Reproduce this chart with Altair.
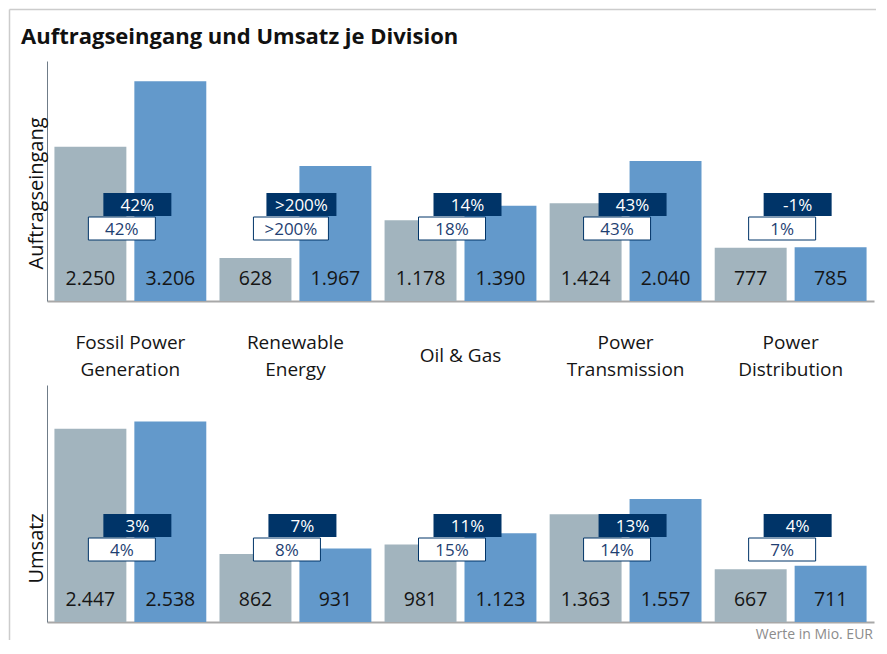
import altair as alt
import pandas as pd

# ---------------- data ----------------
divisions = ["Fossil Power Generation", "Renewable Energy", "Oil & Gas",
             "Power Transmission", "Power Distribution"]
division_labels = ["Fossil Power\nGeneration", "Renewable\nEnergy", "Oil & Gas",
                   "Power\nTransmission", "Power\nDistribution"]

ae_prev = [2250, 628, 1178, 1424, 777]
ae_curr = [3206, 1967, 1390, 2040, 785]
ae_nominal = ["42%", ">200%", "14%", "43%", "-1%"]
ae_comparable = ["42%", ">200%", "18%", "43%", "1%"]

ums_prev = [2447, 862, 981, 1363, 667]
ums_curr = [2538, 931, 1123, 1557, 711]
ums_nominal = ["3%", "7%", "11%", "13%", "4%"]
ums_comparable = ["4%", "8%", "15%", "14%", "7%"]

periods = ["prev", "curr"]
TITLE = "Auftragseingang und Umsatz je Division"
FOOTNOTE = "Werte in Mio. EUR"

# ---------------- style ----------------
GRAY = "#a2b4be"
BLUE = "#6399cb"
NAVY = "#003468"
NAVY_TXT = "#1f3f72"
FONT = "Open Sans"
W = 827


def long_df(prev, curr):
    rows = []
    for d, p, c in zip(divisions, prev, curr):
        rows.append({"division": d, "period": "prev", "value": p})
        rows.append({"division": d, "period": "curr", "value": c})
    return pd.DataFrame(rows)


def box_df(nom, cmp):
    return pd.DataFrame({"division": divisions, "label": division_labels,
                         "nom": nom, "cmp": cmp})


def xenc():
    return alt.X("division:N", sort=divisions,
                 scale=alt.Scale(paddingInner=0.08, paddingOuter=0.045),
                 axis=alt.Axis(labels=False, ticks=False, title=None, grid=False,
                               domainColor="#a8a8a8", domainWidth=2))


def panel(prev, curr, nom, cmp, ymax, H, ytitle, title_gap, top=False):
    df = long_df(prev, curr)
    bdf = box_df(nom, cmp)
    xo = alt.XOffset("period:N", sort=periods,
                     scale=alt.Scale(paddingInner=0.1, paddingOuter=0))
    yax = alt.Axis(title=ytitle, labels=False, ticks=False, grid=False,
                   domainColor="#6f7c88", domainWidth=1,
                   titleFontSize=20, titleFontWeight="normal", titleColor="#111111",
                   titleFont=FONT, titleAngle=270, titleAlign="left",
                   titleBaseline="alphabetic", titleX=-5, titleY=H - title_gap)
    bars = alt.Chart(df).mark_bar().encode(
        x=xenc(), xOffset=xo,
        y=alt.Y("value:Q", scale=alt.Scale(domain=[0, ymax], nice=False), axis=yax),
        color=alt.Color("period:N", scale=alt.Scale(domain=periods, range=[GRAY, BLUE]),
                        legend=None),
    )
    vals = alt.Chart(df).transform_calculate(
        lbl="replace(format(datum.value, ','), ',', '.')"
    ).mark_text(baseline="alphabetic", dy=-16, fontSize=19.5, color="#151515", font=FONT).encode(
        x=xenc(), xOffset=xo, y=alt.Y(datum=0), text="lbl:N")

    d_top, d_bot = H - 108, H - 85
    w_top, w_bot = H - 84, H - 61
    layers = [bars, vals]
    short_n = "length(datum.nom) <= 4"
    long_n = "length(datum.nom) > 4"
    short_c = "length(datum.cmp) <= 4"
    long_c = "length(datum.cmp) > 4"
    for flt, wd, off in [(short_n, 68, 7), (long_n, 70, 6)]:
        base = alt.Chart(bdf).transform_filter(flt)
        layers.append(base.mark_bar(width=wd, xOffset=off, color=NAVY).encode(
            x=xenc(), y=alt.value(d_top), y2=alt.value(d_bot)))
        layers.append(base.mark_text(dx=off, fontSize=17, color="white", font=FONT,
                                     baseline="middle").encode(
            x=xenc(), y=alt.value((d_top + d_bot) / 2 + 1), text="nom:N"))
    for flt, wd, off in [(short_c, 67, -8.5), (long_c, 75, -4.5)]:
        base = alt.Chart(bdf).transform_filter(flt)
        layers.append(base.mark_bar(width=wd, xOffset=off, color="white",
                                    stroke=NAVY, strokeWidth=1).encode(
            x=xenc(), y=alt.value(w_top), y2=alt.value(w_bot)))
        layers.append(base.mark_text(dx=off, fontSize=17, color=NAVY_TXT, font=FONT,
                                     baseline="middle").encode(
            x=xenc(), y=alt.value((w_top + w_bot) / 2 + 1), text="cmp:N"))

    if top:
        for flt, ypos in [("indexof(datum.label, '\\n') >= 0", H + 42),
                          ("indexof(datum.label, '\\n') < 0", H + 55)]:
            layers.append(alt.Chart(bdf).transform_filter(flt).mark_text(
                lineBreak="\n", lineHeight=27, baseline="middle", fontSize=19,
                color="#151515", font=FONT).encode(
                x=xenc(), y=alt.value(ypos), text="label:N"))
        one = pd.DataFrame({"t": [TITLE]})
        layers.append(alt.Chart(one).mark_text(
            align="left", baseline="alphabetic", fontSize=22, fontWeight="bold",
            color="#111111", font=FONT).encode(
            x=alt.value(-26), y=alt.value(-17), text="t:N"))
        layers.append(alt.Chart(one).mark_rule(color="#cccccc", strokeWidth=1.5).encode(
            x=alt.value(-37.5), x2=alt.value(829), y=alt.value(-51.5)))
        layers.append(alt.Chart(one).mark_rule(color="#cccccc", strokeWidth=1.5).encode(
            x=alt.value(-37.5), y=alt.value(-51.5), y2=alt.value(579)))
    else:
        one = pd.DataFrame({"t": [FOOTNOTE]})
        layers.append(alt.Chart(one).mark_text(
            align="right", baseline="alphabetic", fontSize=14, color="#8c8c8c",
            font=FONT).encode(x=alt.value(826), y=alt.value(H + 17), text="t:N"))

    return alt.layer(*layers).properties(width=W, height=H)


top = panel(ae_prev, ae_curr, ae_nominal, ae_comparable, 3500, 240,
            "Auftragseingang", 32, top=True)
bottom = panel(ums_prev, ums_curr, ums_nominal, ums_comparable, 3000, 237,
               "Umsatz", 39)

chart = alt.vconcat(top, bottom, spacing=84, bounds="flush").configure(
    font=FONT, padding=0
).configure_view(stroke=None)

chart.save("out.html", embed_options={"renderer": "svg", "actions": False})
